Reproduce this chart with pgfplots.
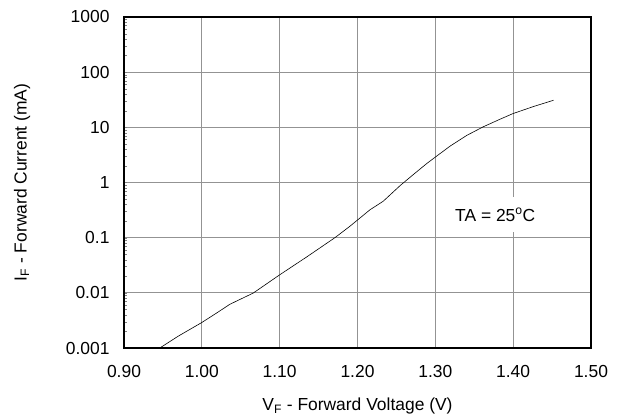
\documentclass[border=0pt]{standalone}
\usepackage{pgfplots}
\pgfplotsset{compat=1.18}
\usepackage{fontspec}
\setmainfont{Liberation Sans}
\begin{document}
\begin{tikzpicture}[font=\fontsize{17.5}{21}\selectfont]
\useasboundingbox (-124bp,-71bp) rectangle (500bp,348bp);
\begin{axis}[
  scale only axis, width=467bp, height=331bp,
  xmin=0.9, xmax=1.5, ymode=log, ymin=0.001, ymax=1000,
  xtick={0.9,1.0,...,1.5},
  ytick={0.001,0.01,0.1,1,10,100,1000},
  yticklabels={0.001,0.01,0.1,1,10,100,1000},
  ticklabel style={font=\fontsize{17.5}{21}\selectfont},
  label style={font=\fontsize{17.5}{21}\selectfont},
  xticklabel style={/pgf/number format/fixed, /pgf/number format/fixed zerofill,
    /pgf/number format/precision=2, /pgf/number format/assume math mode=true, yshift=-14bp},
  yticklabel style={xshift=-11bp},
  major x tick style={draw=none},
  minor x tick style={draw=none},
  tick align=inside, ytick pos=left,
  major tick length=0pt, minor tick length=3bp,
  minor y tick num=8,
  grid=major, major grid style={gray!85, line width=0.8pt},
  axis line style={line width=1.2pt},
  xlabel={V\textsubscript{F} - Forward Voltage (V)},
  ylabel={I\textsubscript{F} - Forward Current (mA)},
  xlabel style={at={(0.5,0)}, anchor=center, yshift=-58bp},
  ylabel style={at={(0,0.5)}, anchor=center, yshift=102bp},
]
\addplot[black, line width=0.6pt] coordinates {
(0.946,0.001) (0.970,0.00165) (1.000,0.0029) (1.020,0.0044) (1.036,0.0062)
(1.066,0.0099) (1.100,0.0212) (1.135,0.045) (1.171,0.1) (1.190,0.16)
(1.216,0.32) (1.233,0.457) (1.2548,0.88) (1.2719,1.40) (1.289,2.21)
(1.299,2.82) (1.319,4.57) (1.3405,7.16) (1.362,10.3) (1.383,14.0)
(1.3995,17.7) (1.426,23.8) (1.452,31)
};
\node[fill=white, inner xsep=7bp, inner ysep=11bp] at (axis cs:1.377,0.26) {TA = 25\textsuperscript{o}C};
\end{axis}
\end{tikzpicture}
\end{document}
